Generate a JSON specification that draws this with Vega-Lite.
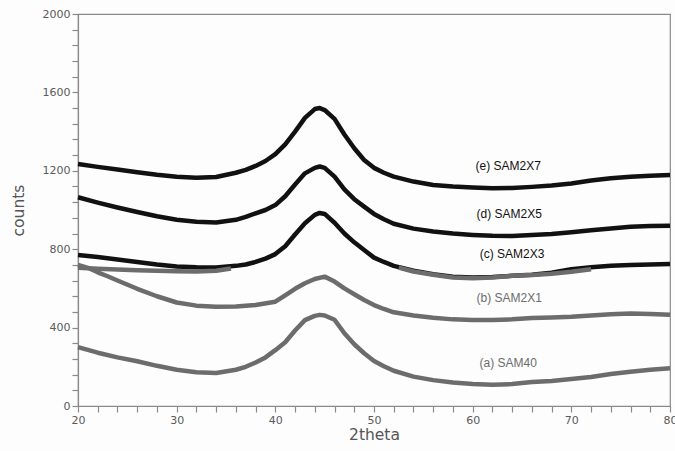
{
  "$schema": "https://vega.github.io/schema/vega-lite/v6.json",
  "width": 592,
  "height": 392,
  "autosize": {"type": "none"},
  "padding": {"left": 78, "top": 14, "right": 5, "bottom": 45},
  "background": "#fdfdfd",
  "config": {
    "view": {"stroke": "#8a8a8a", "strokeWidth": 1.2},
    "axis": {
      "grid": false,
      "domainColor": "#8a8a8a",
      "domainWidth": 1.2,
      "tickColor": "#8a8a8a",
      "tickWidth": 1.2,
      "tickSize": 6,
      "labelOverlap": false,
      "labelFont": "DejaVu Sans",
      "labelFontSize": 11,
      "labelColor": "#5a5a5a",
      "titleFont": "DejaVu Sans",
      "titleFontSize": 15.5,
      "titleFontWeight": "normal",
      "titleColor": "#555555"
    }
  },
  "datasets": {
    "curves": [
      {"series": "a", "tone": "grey", "x": 20, "y": 300},
      {"series": "a", "tone": "grey", "x": 22, "y": 272},
      {"series": "a", "tone": "grey", "x": 24, "y": 248},
      {"series": "a", "tone": "grey", "x": 26, "y": 228},
      {"series": "a", "tone": "grey", "x": 28, "y": 205},
      {"series": "a", "tone": "grey", "x": 30, "y": 185},
      {"series": "a", "tone": "grey", "x": 32, "y": 172},
      {"series": "a", "tone": "grey", "x": 34, "y": 168},
      {"series": "a", "tone": "grey", "x": 36, "y": 185},
      {"series": "a", "tone": "grey", "x": 37, "y": 200},
      {"series": "a", "tone": "grey", "x": 38, "y": 222},
      {"series": "a", "tone": "grey", "x": 39, "y": 248},
      {"series": "a", "tone": "grey", "x": 40, "y": 285},
      {"series": "a", "tone": "grey", "x": 41, "y": 325},
      {"series": "a", "tone": "grey", "x": 42, "y": 385},
      {"series": "a", "tone": "grey", "x": 43, "y": 438},
      {"series": "a", "tone": "grey", "x": 44, "y": 460},
      {"series": "a", "tone": "grey", "x": 44.5, "y": 465},
      {"series": "a", "tone": "grey", "x": 45, "y": 462},
      {"series": "a", "tone": "grey", "x": 46, "y": 440},
      {"series": "a", "tone": "grey", "x": 47, "y": 371},
      {"series": "a", "tone": "grey", "x": 48, "y": 315},
      {"series": "a", "tone": "grey", "x": 49, "y": 269},
      {"series": "a", "tone": "grey", "x": 50, "y": 230},
      {"series": "a", "tone": "grey", "x": 51, "y": 203},
      {"series": "a", "tone": "grey", "x": 52, "y": 180},
      {"series": "a", "tone": "grey", "x": 54, "y": 150},
      {"series": "a", "tone": "grey", "x": 56, "y": 132},
      {"series": "a", "tone": "grey", "x": 58, "y": 120},
      {"series": "a", "tone": "grey", "x": 60, "y": 112},
      {"series": "a", "tone": "grey", "x": 62, "y": 108},
      {"series": "a", "tone": "grey", "x": 64, "y": 112},
      {"series": "a", "tone": "grey", "x": 66, "y": 122},
      {"series": "a", "tone": "grey", "x": 68, "y": 128},
      {"series": "a", "tone": "grey", "x": 70, "y": 138},
      {"series": "a", "tone": "grey", "x": 72, "y": 148},
      {"series": "a", "tone": "grey", "x": 74, "y": 163},
      {"series": "a", "tone": "grey", "x": 76, "y": 175},
      {"series": "a", "tone": "grey", "x": 78, "y": 185},
      {"series": "a", "tone": "grey", "x": 80, "y": 192},

      {"series": "b", "tone": "grey", "x": 20, "y": 720},
      {"series": "b", "tone": "grey", "x": 21, "y": 705},
      {"series": "b", "tone": "grey", "x": 22, "y": 682},
      {"series": "b", "tone": "grey", "x": 23, "y": 662},
      {"series": "b", "tone": "grey", "x": 24, "y": 640},
      {"series": "b", "tone": "grey", "x": 26, "y": 598},
      {"series": "b", "tone": "grey", "x": 28, "y": 560},
      {"series": "b", "tone": "grey", "x": 30, "y": 528},
      {"series": "b", "tone": "grey", "x": 32, "y": 512},
      {"series": "b", "tone": "grey", "x": 34, "y": 507},
      {"series": "b", "tone": "grey", "x": 36, "y": 508},
      {"series": "b", "tone": "grey", "x": 38, "y": 515},
      {"series": "b", "tone": "grey", "x": 40, "y": 532},
      {"series": "b", "tone": "grey", "x": 41, "y": 565},
      {"series": "b", "tone": "grey", "x": 42, "y": 598},
      {"series": "b", "tone": "grey", "x": 43, "y": 626},
      {"series": "b", "tone": "grey", "x": 44, "y": 648},
      {"series": "b", "tone": "grey", "x": 45, "y": 660},
      {"series": "b", "tone": "grey", "x": 46, "y": 635},
      {"series": "b", "tone": "grey", "x": 47, "y": 600},
      {"series": "b", "tone": "grey", "x": 48, "y": 570},
      {"series": "b", "tone": "grey", "x": 49, "y": 541},
      {"series": "b", "tone": "grey", "x": 50, "y": 515},
      {"series": "b", "tone": "grey", "x": 51, "y": 495},
      {"series": "b", "tone": "grey", "x": 52, "y": 478},
      {"series": "b", "tone": "grey", "x": 54, "y": 462},
      {"series": "b", "tone": "grey", "x": 56, "y": 450},
      {"series": "b", "tone": "grey", "x": 58, "y": 442},
      {"series": "b", "tone": "grey", "x": 60, "y": 439},
      {"series": "b", "tone": "grey", "x": 62, "y": 439},
      {"series": "b", "tone": "grey", "x": 64, "y": 442},
      {"series": "b", "tone": "grey", "x": 66, "y": 449},
      {"series": "b", "tone": "grey", "x": 68, "y": 451},
      {"series": "b", "tone": "grey", "x": 70, "y": 455},
      {"series": "b", "tone": "grey", "x": 72, "y": 462},
      {"series": "b", "tone": "grey", "x": 74, "y": 468},
      {"series": "b", "tone": "grey", "x": 76, "y": 472},
      {"series": "b", "tone": "grey", "x": 78, "y": 470},
      {"series": "b", "tone": "grey", "x": 80, "y": 465},

      {"series": "c", "tone": "black", "x": 20, "y": 770},
      {"series": "c", "tone": "black", "x": 22, "y": 760},
      {"series": "c", "tone": "black", "x": 24, "y": 748},
      {"series": "c", "tone": "black", "x": 26, "y": 735},
      {"series": "c", "tone": "black", "x": 28, "y": 722},
      {"series": "c", "tone": "black", "x": 30, "y": 712},
      {"series": "c", "tone": "black", "x": 32, "y": 708},
      {"series": "c", "tone": "black", "x": 34, "y": 707},
      {"series": "c", "tone": "black", "x": 36, "y": 715},
      {"series": "c", "tone": "black", "x": 37, "y": 722},
      {"series": "c", "tone": "black", "x": 38, "y": 735},
      {"series": "c", "tone": "black", "x": 39, "y": 752},
      {"series": "c", "tone": "black", "x": 40, "y": 775},
      {"series": "c", "tone": "black", "x": 41, "y": 815},
      {"series": "c", "tone": "black", "x": 42, "y": 875},
      {"series": "c", "tone": "black", "x": 43, "y": 932},
      {"series": "c", "tone": "black", "x": 44, "y": 975},
      {"series": "c", "tone": "black", "x": 44.5, "y": 985},
      {"series": "c", "tone": "black", "x": 45, "y": 980},
      {"series": "c", "tone": "black", "x": 46, "y": 935},
      {"series": "c", "tone": "black", "x": 47, "y": 880},
      {"series": "c", "tone": "black", "x": 48, "y": 835},
      {"series": "c", "tone": "black", "x": 49, "y": 796},
      {"series": "c", "tone": "black", "x": 50, "y": 757},
      {"series": "c", "tone": "black", "x": 51, "y": 735},
      {"series": "c", "tone": "black", "x": 52, "y": 715},
      {"series": "c", "tone": "black", "x": 54, "y": 690},
      {"series": "c", "tone": "black", "x": 56, "y": 672},
      {"series": "c", "tone": "black", "x": 58, "y": 660},
      {"series": "c", "tone": "black", "x": 60, "y": 656},
      {"series": "c", "tone": "black", "x": 62, "y": 658},
      {"series": "c", "tone": "black", "x": 64, "y": 664},
      {"series": "c", "tone": "black", "x": 66, "y": 670},
      {"series": "c", "tone": "black", "x": 68, "y": 680},
      {"series": "c", "tone": "black", "x": 70, "y": 698},
      {"series": "c", "tone": "black", "x": 72, "y": 708},
      {"series": "c", "tone": "black", "x": 74, "y": 715},
      {"series": "c", "tone": "black", "x": 76, "y": 719},
      {"series": "c", "tone": "black", "x": 78, "y": 722},
      {"series": "c", "tone": "black", "x": 80, "y": 724},

      {"series": "f1", "tone": "grey", "x": 20, "y": 705},
      {"series": "f1", "tone": "grey", "x": 22, "y": 700},
      {"series": "f1", "tone": "grey", "x": 24, "y": 697},
      {"series": "f1", "tone": "grey", "x": 26, "y": 693},
      {"series": "f1", "tone": "grey", "x": 28, "y": 690},
      {"series": "f1", "tone": "grey", "x": 30, "y": 688},
      {"series": "f1", "tone": "grey", "x": 32, "y": 686},
      {"series": "f1", "tone": "grey", "x": 34, "y": 690},
      {"series": "f1", "tone": "grey", "x": 35.5, "y": 702},

      {"series": "f2", "tone": "grey", "x": 52.5, "y": 706},
      {"series": "f2", "tone": "grey", "x": 54, "y": 686},
      {"series": "f2", "tone": "grey", "x": 56, "y": 670},
      {"series": "f2", "tone": "grey", "x": 58, "y": 656},
      {"series": "f2", "tone": "grey", "x": 60, "y": 652},
      {"series": "f2", "tone": "grey", "x": 62, "y": 656},
      {"series": "f2", "tone": "grey", "x": 64, "y": 664},
      {"series": "f2", "tone": "grey", "x": 66, "y": 668},
      {"series": "f2", "tone": "grey", "x": 68, "y": 675},
      {"series": "f2", "tone": "grey", "x": 70, "y": 685},
      {"series": "f2", "tone": "grey", "x": 72, "y": 698},

      {"series": "d", "tone": "black", "x": 20, "y": 1065},
      {"series": "d", "tone": "black", "x": 22, "y": 1038},
      {"series": "d", "tone": "black", "x": 24, "y": 1013},
      {"series": "d", "tone": "black", "x": 26, "y": 990},
      {"series": "d", "tone": "black", "x": 28, "y": 968},
      {"series": "d", "tone": "black", "x": 30, "y": 950},
      {"series": "d", "tone": "black", "x": 32, "y": 940},
      {"series": "d", "tone": "black", "x": 34, "y": 936},
      {"series": "d", "tone": "black", "x": 36, "y": 950},
      {"series": "d", "tone": "black", "x": 37, "y": 965},
      {"series": "d", "tone": "black", "x": 38, "y": 983},
      {"series": "d", "tone": "black", "x": 39, "y": 1000},
      {"series": "d", "tone": "black", "x": 40, "y": 1025},
      {"series": "d", "tone": "black", "x": 41, "y": 1070},
      {"series": "d", "tone": "black", "x": 42, "y": 1130},
      {"series": "d", "tone": "black", "x": 43, "y": 1187},
      {"series": "d", "tone": "black", "x": 44, "y": 1215},
      {"series": "d", "tone": "black", "x": 44.5, "y": 1222},
      {"series": "d", "tone": "black", "x": 45, "y": 1215},
      {"series": "d", "tone": "black", "x": 46, "y": 1170},
      {"series": "d", "tone": "black", "x": 47, "y": 1105},
      {"series": "d", "tone": "black", "x": 48, "y": 1055},
      {"series": "d", "tone": "black", "x": 49, "y": 1017},
      {"series": "d", "tone": "black", "x": 50, "y": 980},
      {"series": "d", "tone": "black", "x": 51, "y": 953},
      {"series": "d", "tone": "black", "x": 52, "y": 930},
      {"series": "d", "tone": "black", "x": 54, "y": 905},
      {"series": "d", "tone": "black", "x": 56, "y": 890},
      {"series": "d", "tone": "black", "x": 58, "y": 880},
      {"series": "d", "tone": "black", "x": 60, "y": 873},
      {"series": "d", "tone": "black", "x": 62, "y": 868},
      {"series": "d", "tone": "black", "x": 64, "y": 867},
      {"series": "d", "tone": "black", "x": 66, "y": 872},
      {"series": "d", "tone": "black", "x": 68, "y": 878},
      {"series": "d", "tone": "black", "x": 70, "y": 887},
      {"series": "d", "tone": "black", "x": 72, "y": 897},
      {"series": "d", "tone": "black", "x": 74, "y": 906},
      {"series": "d", "tone": "black", "x": 76, "y": 914},
      {"series": "d", "tone": "black", "x": 78, "y": 918},
      {"series": "d", "tone": "black", "x": 80, "y": 920},

      {"series": "e", "tone": "black", "x": 20, "y": 1235},
      {"series": "e", "tone": "black", "x": 22, "y": 1220},
      {"series": "e", "tone": "black", "x": 24, "y": 1207},
      {"series": "e", "tone": "black", "x": 26, "y": 1193},
      {"series": "e", "tone": "black", "x": 28, "y": 1180},
      {"series": "e", "tone": "black", "x": 30, "y": 1170},
      {"series": "e", "tone": "black", "x": 32, "y": 1165},
      {"series": "e", "tone": "black", "x": 34, "y": 1168},
      {"series": "e", "tone": "black", "x": 36, "y": 1190},
      {"series": "e", "tone": "black", "x": 37, "y": 1205},
      {"series": "e", "tone": "black", "x": 38, "y": 1225},
      {"series": "e", "tone": "black", "x": 39, "y": 1250},
      {"series": "e", "tone": "black", "x": 40, "y": 1285},
      {"series": "e", "tone": "black", "x": 41, "y": 1335},
      {"series": "e", "tone": "black", "x": 42, "y": 1400},
      {"series": "e", "tone": "black", "x": 43, "y": 1470},
      {"series": "e", "tone": "black", "x": 44, "y": 1515},
      {"series": "e", "tone": "black", "x": 44.5, "y": 1520},
      {"series": "e", "tone": "black", "x": 45, "y": 1510},
      {"series": "e", "tone": "black", "x": 46, "y": 1465},
      {"series": "e", "tone": "black", "x": 47, "y": 1385},
      {"series": "e", "tone": "black", "x": 48, "y": 1315},
      {"series": "e", "tone": "black", "x": 49, "y": 1255},
      {"series": "e", "tone": "black", "x": 50, "y": 1215},
      {"series": "e", "tone": "black", "x": 51, "y": 1190},
      {"series": "e", "tone": "black", "x": 52, "y": 1170},
      {"series": "e", "tone": "black", "x": 54, "y": 1145},
      {"series": "e", "tone": "black", "x": 56, "y": 1128},
      {"series": "e", "tone": "black", "x": 58, "y": 1120},
      {"series": "e", "tone": "black", "x": 60, "y": 1115},
      {"series": "e", "tone": "black", "x": 62, "y": 1111},
      {"series": "e", "tone": "black", "x": 64, "y": 1112},
      {"series": "e", "tone": "black", "x": 66, "y": 1118},
      {"series": "e", "tone": "black", "x": 68, "y": 1125},
      {"series": "e", "tone": "black", "x": 70, "y": 1135},
      {"series": "e", "tone": "black", "x": 72, "y": 1150},
      {"series": "e", "tone": "black", "x": 74, "y": 1162},
      {"series": "e", "tone": "black", "x": 76, "y": 1170},
      {"series": "e", "tone": "black", "x": 78, "y": 1175},
      {"series": "e", "tone": "black", "x": 80, "y": 1178}
    ],
    "labels": [
      {"text": "(e) SAM2X7", "tone": "black", "x": 63.6, "y": 1222},
      {"text": "(d) SAM2X5", "tone": "black", "x": 63.7, "y": 980},
      {"text": "(c) SAM2X3", "tone": "black", "x": 64.0, "y": 774},
      {"text": "(b) SAM2X1", "tone": "grey", "x": 63.7, "y": 549},
      {"text": "(a) SAM40", "tone": "grey", "x": 63.6, "y": 218}
    ]
  },
  "layer": [
    {
      "data": {"name": "curves"},
      "mark": {"type": "line", "strokeWidth": 4.5, "strokeJoin": "round", "strokeCap": "butt"},
      "encoding": {
        "x": {
          "field": "x",
          "type": "quantitative",
          "scale": {"domain": [20, 80], "nice": false, "zero": false},
          "axis": {
            "title": "2theta",
            "values": [20,22,24,26,28,30,32,34,36,38,40,42,44,46,48,50,52,54,56,58,60,62,64,66,68,70,72,74,76,78,80],
            "tickCount": 100,
            "format": "d",
            "labelExpr": "datum.value % 10 === 0 ? datum.label : ''",
            "labelPadding": 2,
            "titlePadding": 2,
            "labelFlush": false
          }
        },
        "y": {
          "field": "y",
          "type": "quantitative",
          "scale": {"domain": [0, 2000], "nice": false},
          "axis": {
            "title": "counts",
            "values": [0,80,160,240,320,400,480,560,640,720,800,880,960,1040,1120,1200,1280,1360,1440,1520,1600,1680,1760,1840,1920,2000],
            "tickCount": 100,
            "labelExpr": "datum.value % 400 === 0 ? datum.label : ''",
            "format": "d",
            "labelPadding": 2,
            "titlePadding": 16
          }
        },
        "color": {
          "field": "tone",
          "type": "nominal",
          "scale": {"domain": ["black", "grey"], "range": ["#111111", "#6c6c6c"]},
          "legend": null
        },
        "detail": {"field": "series"}
      }
    },
    {
      "data": {"name": "labels"},
      "mark": {"type": "text", "font": "Liberation Sans", "fontSize": 12, "align": "center", "baseline": "middle"},
      "encoding": {
        "x": {"field": "x", "type": "quantitative"},
        "y": {"field": "y", "type": "quantitative"},
        "text": {"field": "text"},
        "color": {"field": "tone", "type": "nominal", "legend": null}
      }
    }
  ]
}
